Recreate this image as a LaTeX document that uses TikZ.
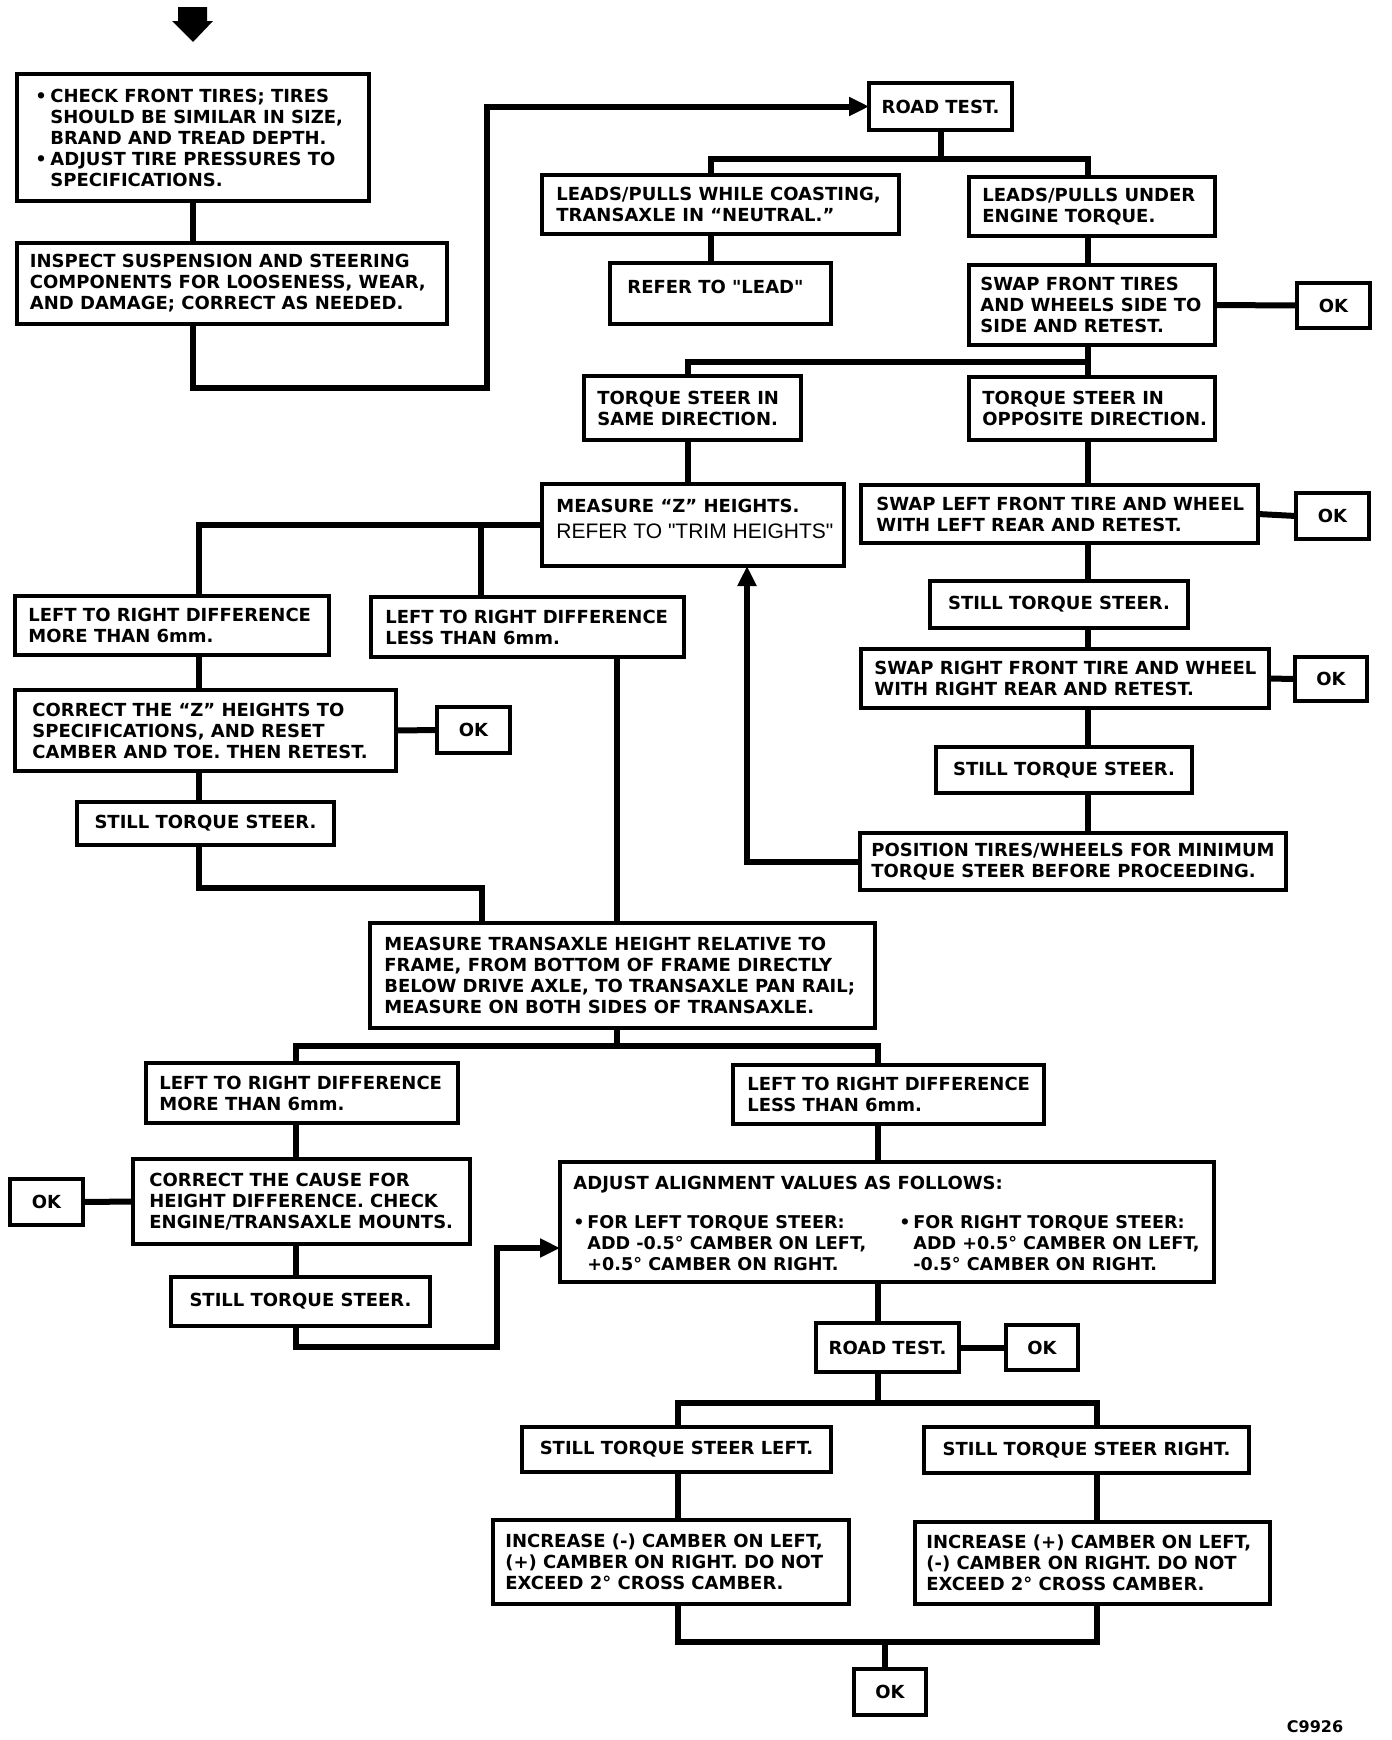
\documentclass[tikz,border=0pt]{standalone}
\usepackage{fontspec}
\setmainfont{DejaVu Sans}
\newfontfamily\dvsans{DejaVu Sans}
\newfontfamily\libsans{Liberation Sans}
\usetikzlibrary{arrows.meta}
\tikzset{
 boxs/.style={draw, line width=1.75pt, inner sep=0pt, outer sep=0pt, font=\dvsans\bfseries\fontsize{9.0}{10.5}\selectfont, align=center},
 txt/.style={inner sep=0pt, anchor=west, align=left, font=\dvsans\bfseries\fontsize{9.0}{10.5}\selectfont},
 conn/.style={line width=3pt},
 arr/.style={line width=3pt, -{Triangle[length=10pt,width=9pt]}},
}
\newcommand\bx[8][]{\node[boxs, minimum width={(#5-#3)*0.5pt}, minimum height={(#6-#4)*0.5pt}] (#2) at ({(#3+#5)/2},{(#4+#6)/2}) {};
\node[txt,#1] (#2t) at ([xshift={#7*0.5pt}]#2.west) {#8};}
\newcommand\bc[7][]{\node[boxs, minimum width={(#5-#3)*0.5pt}, minimum height={(#6-#4)*0.5pt}, #1] (#2) at ({(#3+#5)/2},{(#4+#6)/2}) {#7};}
\begin{document}
\begin{tikzpicture}[x=0.5pt,y=-0.5pt]
\useasboundingbox (0,0) rectangle (1392,1740);
% top arrow
\fill (178,7) -- (207,7) -- (207,21) -- (213,21) -- (193,42) -- (172,21) -- (178,21) -- cycle;
% boxes
\bx{A}{17}{74}{369}{201}{18}{\makebox[7.5pt][l]{•}CHECK FRONT TIRES; TIRES\\\hspace*{7.5pt}SHOULD BE SIMILAR IN SIZE,\\\hspace*{7.5pt}BRAND AND TREAD DEPTH.\\\makebox[7.5pt][l]{•}ADJUST TIRE PRESSURES TO\\\hspace*{7.5pt}SPECIFICATIONS.}
\bx{B}{17}{243}{447}{324}{12.5}{INSPECT SUSPENSION AND STEERING\\COMPONENTS FOR LOOSENESS, WEAR,\\AND DAMAGE; CORRECT AS NEEDED.}
\bc{ROAD}{869}{83}{1012}{130}{ROAD TEST.}
\bx{COAST}{542}{175}{899}{234}{14}{LEADS/PULLS WHILE COASTING,\\TRANSAXLE IN “NEUTRAL.”}
\bx{UNDER}{969}{177}{1215}{236}{13}{LEADS/PULLS UNDER\\ENGINE TORQUE.}
\bx[yshift=3.5pt]{REFER}{610}{263}{831}{324}{17}{REFER TO "LEAD"}
\bx{SWAPF}{969}{265}{1215}{345}{11}{SWAP FRONT TIRES\\AND WHEELS SIDE TO\\SIDE AND RETEST.}
\bc{OKa}{1297}{283}{1370}{328}{OK}
\bx{SAME}{584}{376}{801}{440}{13}{TORQUE STEER IN\\SAME DIRECTION.}
\bx{OPP}{969}{377}{1215}{440}{13}{TORQUE STEER IN\\OPPOSITE DIRECTION.}
\bx[yshift=9.5pt]{MEASZ}{542}{484}{844}{566}{14}{MEASURE “Z” HEIGHTS.}
\node[txt, font=\libsans\fontsize{10.5}{12}\selectfont, yshift=-3pt] (MEASZb) at ([xshift=7pt]MEASZ.west) {REFER TO "TRIM HEIGHTS"};
\bx{LRa}{15}{596}{329}{655}{13}{LEFT TO RIGHT DIFFERENCE\\MORE THAN 6mm.}
\bx{LRb}{371}{597}{684}{657}{14}{LEFT TO RIGHT DIFFERENCE\\LESS THAN 6mm.}
\bx{CZ}{15}{690}{396}{771}{17}{CORRECT THE “Z” HEIGHTS TO\\SPECIFICATIONS, AND RESET\\CAMBER AND TOE. THEN RETEST.}
\bc{OKb}{437}{707}{510}{753}{OK}
\bc{STa}{77}{802}{334}{845}{STILL TORQUE STEER.}
\bx{SWAPL}{861}{485}{1258}{543}{15}{SWAP LEFT FRONT TIRE AND WHEEL\\WITH LEFT REAR AND RETEST.}
\bc{OKc}{1296}{493}{1369}{539}{OK}
\bc{STb}{930}{581}{1188}{628}{STILL TORQUE STEER.}
\bx{SWAPR}{861}{649}{1269}{708}{13}{SWAP RIGHT FRONT TIRE AND WHEEL\\WITH RIGHT REAR AND RETEST.}
\bc{OKd}{1295}{657}{1367}{701}{OK}
\bc{STc}{936}{747}{1192}{793}{STILL TORQUE STEER.}
\bx{POS}{860}{833}{1286}{890}{11}{POSITION TIRES/WHEELS FOR MINIMUM\\TORQUE STEER BEFORE PROCEEDING.}
\bx{MT}{370}{923}{875}{1028}{14}{MEASURE TRANSAXLE HEIGHT RELATIVE TO\\FRAME, FROM BOTTOM OF FRAME DIRECTLY\\BELOW DRIVE AXLE, TO TRANSAXLE PAN RAIL;\\MEASURE ON BOTH SIDES OF TRANSAXLE.}
\bx{LRc}{146}{1063}{458}{1123}{13}{LEFT TO RIGHT DIFFERENCE\\MORE THAN 6mm.}
\bx{LRd}{733}{1065}{1044}{1124}{14}{LEFT TO RIGHT DIFFERENCE\\LESS THAN 6mm.}
\bx{CC}{133}{1159}{470}{1244}{16}{CORRECT THE CAUSE FOR\\HEIGHT DIFFERENCE. CHECK\\ENGINE/TRANSAXLE MOUNTS.}
\bc{OKe}{10}{1179}{83}{1225}{OK}
\bc{STd}{171}{1277}{430}{1326}{STILL TORQUE STEER.}
\bx[yshift=18.5pt]{ADJ}{560}{1162}{1214}{1282}{13}{ADJUST ALIGNMENT VALUES AS FOLLOWS:}
\node[txt, font=\dvsans\bfseries\fontsize{8.8}{10.5}\selectfont, yshift=-10.5pt] (ADJl) at ([xshift=6.5pt]ADJ.west) {\makebox[7pt][l]{•}FOR LEFT TORQUE STEER:\\\hspace*{7pt}ADD -0.5° CAMBER ON LEFT,\\\hspace*{7pt}+0.5° CAMBER ON RIGHT.};
\node[txt, font=\dvsans\bfseries\fontsize{8.8}{10.5}\selectfont, yshift=-10.5pt] (ADJr) at ([xshift=169.5pt]ADJ.west) {\makebox[7pt][l]{•}FOR RIGHT TORQUE STEER:\\\hspace*{7pt}ADD +0.5° CAMBER ON LEFT,\\\hspace*{7pt}-0.5° CAMBER ON RIGHT.};
\bc{ROADb}{816}{1323}{959}{1372}{ROAD TEST.}
\bc{OKf}{1006}{1325}{1078}{1370}{OK}
\bc{STL}{522}{1427}{831}{1472}{STILL TORQUE STEER LEFT.}
\bc{STR}{924}{1427}{1249}{1473}{STILL TORQUE STEER RIGHT.}
\bx{INCL}{493}{1520}{849}{1604}{12}{INCREASE (-) CAMBER ON LEFT,\\(+) CAMBER ON RIGHT. DO NOT\\EXCEED 2° CROSS CAMBER.}
\bx{INCR}{915}{1522}{1270}{1604}{11}{INCREASE (+) CAMBER ON LEFT,\\(-) CAMBER ON RIGHT. DO NOT\\EXCEED 2° CROSS CAMBER.}
\bc{OKg}{854}{1669}{926}{1715}{OK}
\node[font=\dvsans\bfseries\fontsize{8}{9}\selectfont, inner sep=0pt] (lbl) at (1315,1727) {C9926};
% junction coordinates
\coordinate (k0b) at (487,388);
\coordinate (k1) at (711,159);
\coordinate (k2) at (1088,159);
\coordinate (k3) at (688,362);
\coordinate (k4) at (199,525);
\coordinate (k5) at (481,525);
\coordinate (k6) at (482,888);
\coordinate (k7) at (617,1046);
\coordinate (k8) at (747,861);
\coordinate (k9) at (296,1046);
\coordinate (k10) at (878,1046);
\coordinate (k12) at (497,1347);
\coordinate (k13) at (497,1248);
\coordinate (k15) at (878,1403);
\coordinate (k16) at (678,1403);
\coordinate (k17) at (1097,1403);
\coordinate (k18) at (885,1642);
% connectors
\draw[conn] (A.south) -- (B.north -| A.south);
\draw[arr] (B.south -| A.south) |- (k0b) |- (ROAD.west);
\draw[conn] (ROAD.south) -- (ROAD.south |- k1);
\draw[conn] (COAST.north -| k1) |- (k2) -- (UNDER.north -| k2);
\draw[conn] (COAST.south -| k1) -- (REFER.north -| k1);
\draw[conn] (UNDER.south -| k2) -- (SWAPF.north -| k2);
\draw[conn] (SWAPF.east) -- (OKa.west);
\draw[conn] (SWAPF.south -| k2) -- (OPP.north -| k2);
\draw[conn] (SAME.north -| k3) -- (k3) -- (k3 -| k2);
\draw[conn] (SAME.south -| k3) -- (MEASZ.north -| k3);
\draw[conn] (MEASZ.west) -- (k4) -- (LRa.north -| k4);
\draw[conn] (k5) -- (LRb.north -| k5);
\draw[conn] (LRa.south -| k4) -- (CZ.north -| k4);
\draw[conn] (CZ.east) -- (OKb.west);
\draw[conn] (CZ.south -| k4) -- (STa.north -| k4);
\draw[conn] (STa.south -| k4) |- (k6) -- (MT.north -| k6);
\draw[conn] (LRb.south -| k7) -- (MT.north -| k7);
\draw[conn] (OPP.south -| k2) -- (SWAPL.north -| k2);
\draw[conn] (SWAPL.south -| k2) -- (STb.north -| k2);
\draw[conn] (STb.south -| k2) -- (SWAPR.north -| k2);
\draw[conn] (SWAPR.south -| k2) -- (STc.north -| k2);
\draw[conn] (STc.south -| k2) -- (POS.north -| k2);
\draw[conn] (SWAPL.east) -- (OKc.west);
\draw[conn] (SWAPR.east) -- (OKd.west);
\draw[arr] (POS.west) -| (MEASZ.south -| k8);
\draw[conn] (MT.south -| k7) -- (k7);
\draw[conn] (LRc.north -| k9) |- (k10) -- (LRd.north -| k10);
\draw[conn] (LRc.south -| k9) -- (CC.north -| k9);
\draw[conn] (CC.west) -- (OKe.east);
\draw[conn] (CC.south -| k9) -- (STd.north -| k9);
\draw[arr] (STd.south -| k9) |- (k12) -- (k13) -- (ADJ.west |- k13);
\draw[conn] (LRd.south -| k10) -- (ADJ.north -| k10);
\draw[conn] (ADJ.south -| k10) -- (ROADb.north -| k10);
\draw[conn] (ROADb.east) -- (OKf.west);
\draw[conn] (ROADb.south -| k10) -- (k15);
\draw[conn] (STL.north -| k16) |- (k17) -- (STR.north -| k17);
\draw[conn] (STL.south -| k16) -- (INCL.north -| k16);
\draw[conn] (STR.south -| k17) -- (INCR.north -| k17);
\draw[conn] (INCL.south -| k16) |- (k18) -| (INCR.south -| k17);
\draw[conn] (k18) -- (OKg.north -| k18);
\end{tikzpicture}
\end{document}
